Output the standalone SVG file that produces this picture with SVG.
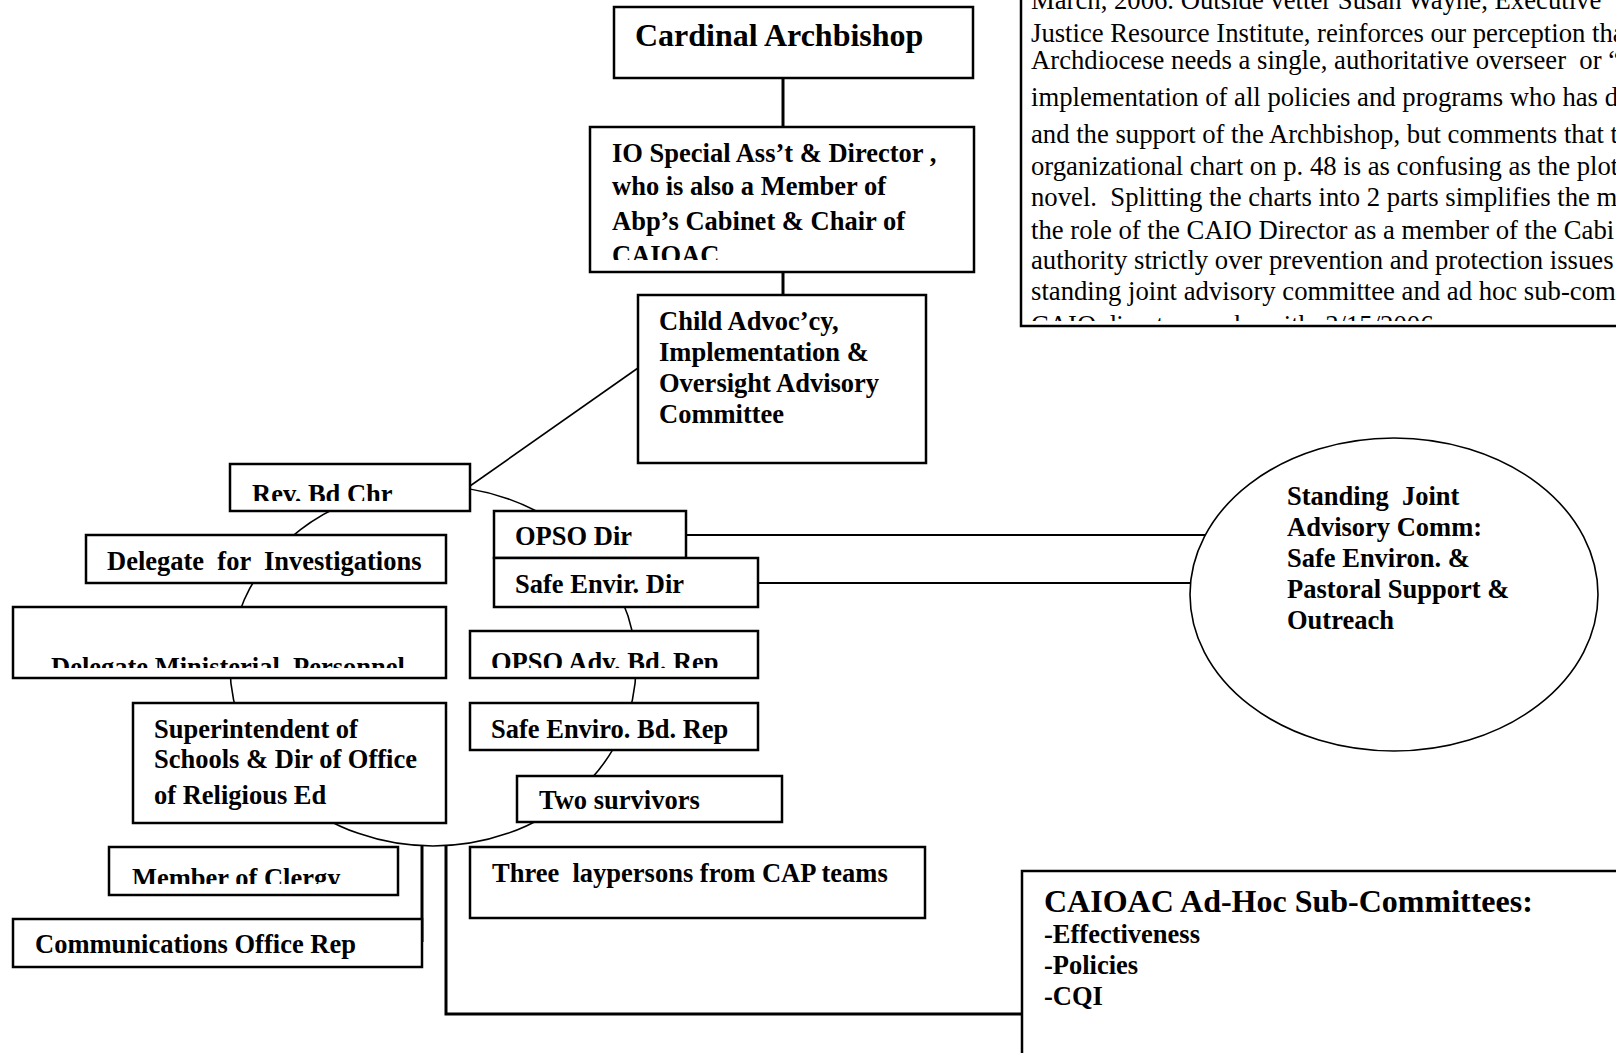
<svg xmlns="http://www.w3.org/2000/svg" xml:space="preserve" width="1616" height="1053" viewBox="0 0 1616 1053">
<style>
.box{fill:#fff;stroke:#000;stroke-width:2.5}
.ell{fill:#fff;stroke:#000;stroke-width:1.6}
.thin{fill:none;stroke:#000;stroke-width:1.6}
.thick{fill:none;stroke:#000;stroke-width:3}
.mid{fill:none;stroke:#000;stroke-width:2.2}
.t{font-family:"Liberation Serif","Times New Roman",serif;font-weight:bold;font-size:26.5px;fill:#000;white-space:pre}
.big{font-size:32px}
.p{font-family:"Liberation Serif","Times New Roman",serif;font-size:26.7px;fill:#000;white-space:pre}
</style>
<defs>
<clipPath id="cIO"><rect x="590" y="127" width="384" height="133"/></clipPath>
<clipPath id="cRev"><rect x="230" y="464" width="240" height="37"/></clipPath>
<clipPath id="cDM"><rect x="13" y="607" width="433" height="61"/></clipPath>
<clipPath id="cOA"><rect x="470" y="631" width="288" height="37"/></clipPath>
<clipPath id="cMC"><rect x="109" y="847" width="289" height="37"/></clipPath>
<clipPath id="cPar"><rect x="1021" y="0" width="600" height="321"/></clipPath>
</defs>
<g id="connectors">
<line class="thick" x1="783" y1="78" x2="783" y2="127"/>
<line class="thick" x1="783" y1="272" x2="783" y2="295"/>
<line class="thin" x1="638" y1="368" x2="470" y2="486"/>
<ellipse class="thin" cx="433" cy="666" rx="203" ry="180"/>
<line class="mid" x1="686" y1="535" x2="1213" y2="535"/>
<line class="mid" x1="758" y1="583" x2="1190" y2="583"/>
<polyline class="thick" points="422,846 422,942"/>
<polyline class="thick" points="446,846 446,1014 1022,1014"/>
</g>
<g id="note">
<rect class="box" x="1021" y="-10" width="700" height="336"/>
<g clip-path="url(#cPar)">
<text class="p" x="1031" y="9">March, 2006. Outside vetter Susan Wayne, Executive</text>
<text class="p" x="1031" y="42">Justice Resource Institute, reinforces our perception tha</text>
<text class="p" x="1031" y="69">Archdiocese needs a single, authoritative overseer  or “</text>
<text class="p" x="1031" y="106">implementation of all policies and programs who has d</text>
<text class="p" x="1031" y="143">and the support of the Archbishop, but comments that t</text>
<text class="p" x="1031" y="175">organizational chart on p. 48 is as confusing as the plot</text>
<text class="p" x="1031" y="206">novel.  Splitting the charts into 2 parts simplifies the m</text>
<text class="p" x="1031" y="239">the role of the CAIO Director as a member of the Cabi</text>
<text class="p" x="1031" y="269">authority strictly over prevention and protection issues</text>
<text class="p" x="1031" y="300">standing joint advisory committee and ad hoc sub-com</text>
<text class="p" x="1031" y="334">CAIO director works with  3/15/2006</text>
</g>
</g>
<g id="cardinal">
<rect class="box" x="614" y="7" width="359" height="71"/>
<text class="t big" x="635" y="46">Cardinal Archbishop</text>
</g>
<g id="io-director">
<rect class="box" x="590" y="127" width="384" height="145"/>
<g clip-path="url(#cIO)">
<text class="t" x="612" y="162">IO Special Ass’t &amp; Director ,</text>
<text class="t" x="612" y="195">who is also a Member of</text>
<text class="t" x="612" y="230">Abp’s Cabinet &amp; Chair of</text>
<text class="t" x="612" y="264">CAIOAC</text>
</g>
</g>
<g id="caioac">
<rect class="box" x="638" y="295" width="288" height="168"/>
<text class="t" x="659" y="330">Child Advoc’cy,</text>
<text class="t" x="659" y="361">Implementation &amp;</text>
<text class="t" x="659" y="392">Oversight Advisory</text>
<text class="t" x="659" y="423">Committee</text>
</g>
<g id="rev-bd-chr">
<rect class="box" x="230" y="464" width="240" height="47"/>
<text class="t" x="252" y="503" clip-path="url(#cRev)">Rev. Bd Chr</text>
</g>
<g id="delegate-investigations">
<rect class="box" x="86" y="535" width="360" height="48"/>
<text class="t" x="107" y="570">Delegate  for  Investigations</text>
</g>
<g id="delegate-ministerial">
<rect class="box" x="13" y="607" width="433" height="71"/>
<text class="t" x="51" y="676" clip-path="url(#cDM)">Delegate Ministerial  Personnel</text>
</g>
<g id="superintendent">
<rect class="box" x="133" y="703" width="313" height="120"/>
<text class="t" x="154" y="738">Superintendent of</text>
<text class="t" x="154" y="768">Schools &amp; Dir of Office</text>
<text class="t" x="154" y="804">of Religious Ed</text>
</g>
<g id="member-clergy">
<rect class="box" x="109" y="847" width="289" height="48"/>
<text class="t" x="132" y="887" clip-path="url(#cMC)">Member of Clergy</text>
</g>
<g id="communications">
<rect class="box" x="13" y="919" width="409" height="48"/>
<text class="t" x="35" y="953">Communications Office Rep</text>
</g>
<g id="opso-dir">
<rect class="box" x="494" y="511" width="192" height="47"/>
<text class="t" x="515" y="545">OPSO Dir</text>
</g>
<g id="safe-envir-dir">
<rect class="box" x="494" y="558" width="264" height="49"/>
<text class="t" x="515" y="593">Safe Envir. Dir</text>
</g>
<g id="opso-adv">
<rect class="box" x="470" y="631" width="288" height="47"/>
<text class="t" x="491" y="671" clip-path="url(#cOA)">OPSO Adv. Bd. Rep</text>
</g>
<g id="safe-enviro-bd">
<rect class="box" x="470" y="703" width="288" height="47"/>
<text class="t" x="491" y="738">Safe Enviro. Bd. Rep</text>
</g>
<g id="two-survivors">
<rect class="box" x="517" y="776" width="265" height="46"/>
<text class="t" x="539" y="809">Two survivors</text>
</g>
<g id="three-laypersons">
<rect class="box" x="470" y="847" width="455" height="71"/>
<text class="t" x="492" y="882">Three  laypersons from CAP teams</text>
</g>
<g id="standing-joint">
<ellipse class="ell" cx="1394" cy="594.5" rx="204" ry="156.5"/>
<text class="t" x="1287" y="505">Standing  Joint</text>
<text class="t" x="1287" y="536">Advisory Comm:</text>
<text class="t" x="1287" y="567">Safe Environ. &amp;</text>
<text class="t" x="1287" y="598">Pastoral Support &amp;</text>
<text class="t" x="1287" y="629">Outreach</text>
</g>
<g id="sub-committees">
<rect class="box" x="1022" y="871" width="700" height="300"/>
<text class="t big" x="1044" y="912">CAIOAC Ad-Hoc Sub-Committees:</text>
<text class="t" x="1044" y="943">-Effectiveness</text>
<text class="t" x="1044" y="974">-Policies</text>
<text class="t" x="1044" y="1005">-CQI</text>
</g>
</svg>
